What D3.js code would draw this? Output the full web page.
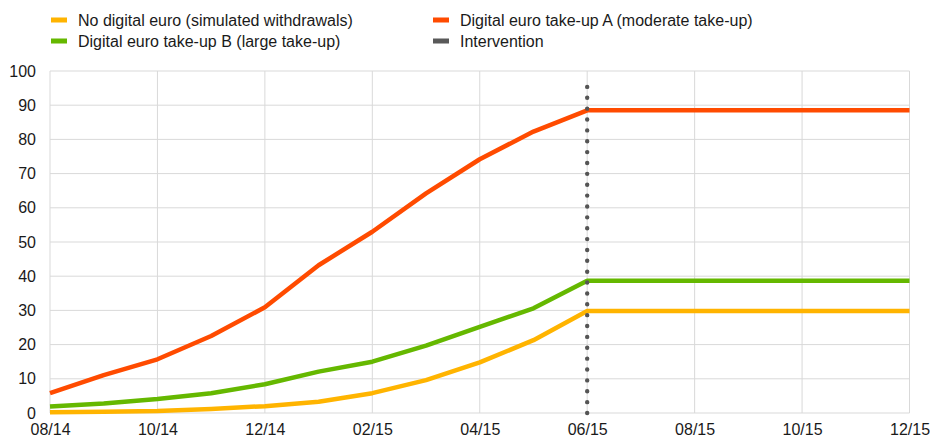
<!DOCTYPE html>
<html><head><meta charset="utf-8">
<script src="https://cdn.jsdelivr.net/npm/d3@7"></script>
<style>body{margin:0;background:#fff;} svg{display:block;font-family:"Liberation Sans",Arial,sans-serif;}</style>
</head><body><svg id="c" width="930" height="439"></svg>
<script>
const months = ["08/14","09/14","10/14","11/14","12/14","01/15","02/15","03/15","04/15","05/15","06/15","07/15","08/15","09/15","10/15","11/15","12/15"];
const tickLabels = ["08/14","10/14","12/14","02/15","04/15","06/15","08/15","10/15","12/15"];
const yTicks = [0,10,20,30,40,50,60,70,80,90,100];
const noDigital = [0.2,0.4,0.6,1.2,2.0,3.3,5.8,9.6,14.8,21.3,29.8,29.8,29.8,29.8,29.8,29.8,29.8];
const takeUpA = [5.8,11.1,15.7,22.5,30.9,43.2,53.0,64.2,74.2,82.3,88.5,88.5,88.5,88.5,88.5,88.5,88.5];
const takeUpB = [1.9,2.8,4.1,5.8,8.4,12.1,15.0,19.7,25.2,30.6,38.7,38.7,38.7,38.7,38.7,38.7,38.7];
const interventionAt = "06/15";
const series = [
  {name:"No digital euro (simulated withdrawals)", values:noDigital, color:"#FFB400"},
  {name:"Digital euro take-up A (moderate take-up)", values:takeUpA, color:"#FF4B00"},
  {name:"Digital euro take-up B (large take-up)", values:takeUpB, color:"#65B800"}
];
const legendItems = [
  {name:series[0].name, color:series[0].color},
  {name:series[1].name, color:series[1].color},
  {name:series[2].name, color:series[2].color},
  {name:"Intervention", color:"#595959"}
];

const svg = d3.select("#c");
const L=50, R=909.5, T=71, B=413;
const x = d3.scalePoint().domain(months).range([L,R]);
const y = d3.scaleLinear().domain([0,100]).range([B,T]);
const FONT = "Liberation Sans, Arial, sans-serif";

// gridlines
const g = svg.append("g");
g.selectAll("line.h").data(yTicks).join("line")
  .attr("x1",L).attr("x2",R).attr("y1",d=>y(d)).attr("y2",d=>y(d))
  .attr("stroke","#d9d9d9").attr("stroke-width",1);
g.selectAll("line.v").data(tickLabels).join("line")
  .attr("x1",d=>x(d)).attr("x2",d=>x(d)).attr("y1",T).attr("y2",B)
  .attr("stroke","#d9d9d9").attr("stroke-width",1);

// axes
const yAxis = svg.append("g").attr("transform",`translate(${L},0)`)
  .call(d3.axisLeft(y).tickValues(yTicks).tickSize(0).tickPadding(14));
yAxis.select(".domain").remove();
yAxis.selectAll("text").attr("font-size",16).attr("fill","#1a1a1a").attr("font-family",FONT);

const xAxis = svg.append("g").attr("transform",`translate(0,${B})`)
  .call(d3.axisBottom(x).tickValues(tickLabels).tickSize(0).tickPadding(10.5));
xAxis.select(".domain").remove();
xAxis.selectAll("text").attr("font-size",16).attr("fill","#1a1a1a").attr("font-family",FONT);

// lines
const line = d3.line().x((d,i)=>x(months[i])).y(d=>y(d));
const drawOrder = [series[0], series[2], series[1]];
svg.selectAll("path.s").data(drawOrder).join("path")
  .attr("d",d=>line(d.values)).attr("fill","none")
  .attr("stroke",d=>d.color).attr("stroke-width",4.5)
  .attr("stroke-linejoin","round").attr("stroke-linecap","butt");

// intervention
svg.append("line").attr("x1",x(interventionAt)).attr("x2",x(interventionAt))
  .attr("y1",B).attr("y2",y(98.5))
  .attr("stroke","#555555").attr("stroke-width",4.4)
  .attr("stroke-linecap","round").attr("stroke-dasharray","0 10.87");

// legend
const lg = svg.append("g");
const pos = [[51,20],[433,20],[51,41],[433,41]];
legendItems.forEach((it,i)=>{
  const [px,py]=pos[i];
  lg.append("rect").attr("x",px).attr("y",py-2.5).attr("width",16).attr("height",5).attr("fill",it.color);
  lg.append("text").attr("x",px+27).attr("y",py+6).attr("font-size",16).attr("fill","#1a1a1a").text(it.name);
});
</script></body></html>
